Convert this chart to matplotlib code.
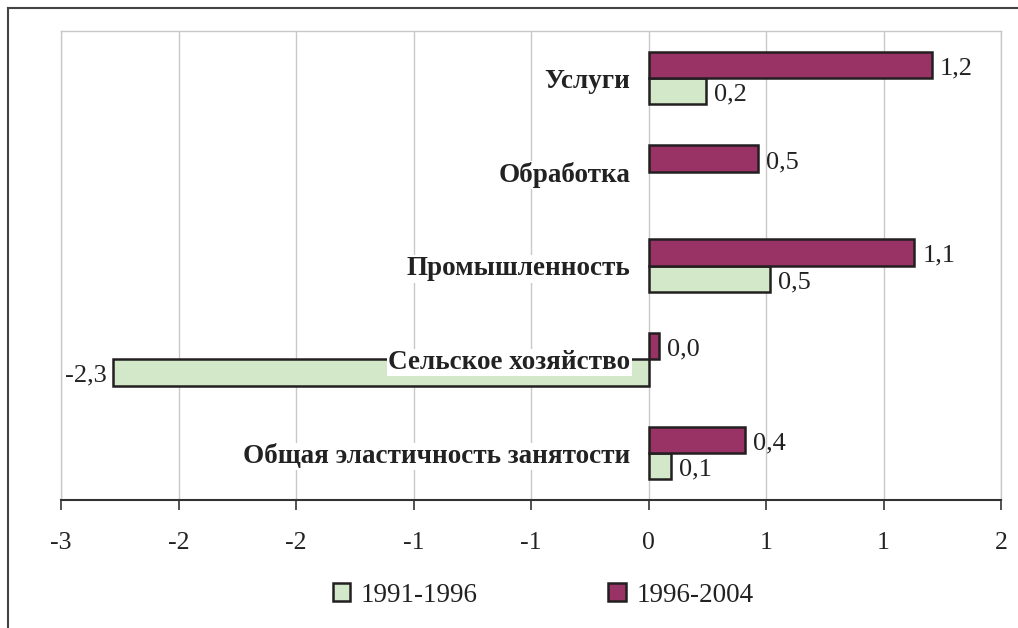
import numpy as np
import matplotlib
matplotlib.use("Agg")
import matplotlib.pyplot as plt
from matplotlib.lines import Line2D

plt.rcParams["font.family"] = ["Liberation Serif", "DejaVu Serif"]

categories = ["Общая эластичность занятости", "Сельское хозяйство",
              "Промышленность", "Обработка", "Услуги"]
v_1991_1996 = [0.094, -2.28, 0.515, np.nan, 0.243]
v_1996_2004 = [0.41, 0.045, 1.13, 0.464, 1.205]
series_names = ["1991-1996", "1996-2004"]
tick_values = [-2.5, -2.0, -1.5, -1.0, -0.5, 0.0, 0.5, 1.0, 1.5]
tick_labels = ["-3", "-2", "-2", "-1", "-1", "0", "1", "1", "2"]

green = "#D3E8C8"
purple = "#993366"
edge = "#231F20"

fig = plt.figure(figsize=(10.18, 6.28), dpi=100)
ax = fig.add_axes([61 / 1018, 1 - 500 / 628, 940 / 1018, 469 / 628])

y = np.arange(len(categories))
h = 0.28
ax.barh(y - h / 2, v_1991_1996, height=h, color=green, edgecolor=edge,
        linewidth=1.8, label=series_names[0], zorder=3)
ax.barh(y + h / 2, v_1996_2004, height=h, color=purple, edgecolor=edge,
        linewidth=1.8, label=series_names[1], zorder=3)

def fmt(v):
    return f"{v:.1f}".replace(".", ",")

for yy, v in zip(y - h / 2, v_1991_1996):
    if np.isnan(v):
        continue
    off = 6 if v >= 0 else -4
    ax.annotate(fmt(v), (v, yy), xytext=(off, -2.5), textcoords="offset points",
                ha="left" if v >= 0 else "right", va="center", fontsize=19,
                color="#222222", zorder=5)
for yy, v in zip(y + h / 2, v_1996_2004):
    ax.annotate(fmt(v), (v, yy), xytext=(6, -2.5), textcoords="offset points",
                ha="left", va="center", fontsize=19, color="#222222", zorder=5)

for yy, name in zip(y, categories):
    ax.annotate(name, (0, yy), xytext=(-13, -2.5), textcoords="offset points",
                ha="right", va="center", fontsize=19.5, fontweight="bold",
                color="#222222", zorder=4,
                bbox=dict(boxstyle="square,pad=0.04", fc="white", ec="none"))

ax.set_xlim(-2.5, 1.5)
ax.set_ylim(-0.5, len(categories) - 0.5)
ax.set_xticks(tick_values)
ax.set_xticklabels(tick_labels, fontsize=18.5, color="#222222")
ax.set_yticks([])
ax.tick_params(axis="x", direction="out", length=7, width=1.2, pad=16, color="#333333")
ax.grid(axis="x", color="#C8C8C8", linewidth=1, zorder=0)
for s in ["top", "left", "right"]:
    ax.spines[s].set_color("#C8C8C8")
    ax.spines[s].set_linewidth(1)
ax.spines["bottom"].set_color("#333333")
ax.spines["bottom"].set_linewidth(1.5)

leg = fig.legend(loc="center", bbox_to_anchor=(543 / 1018, 1 - 595 / 628),
                 ncol=2, frameon=False, fontsize=19.5, handlelength=0.65,
                 handleheight=0.65, handletextpad=0.4, columnspacing=4.8)
for t in leg.get_texts():
    t.set_color("#222222")

# outer frame (left and top edges)
fig.add_artist(Line2D([8 / 1018, 8 / 1018], [0, 1 - 8 / 628], transform=fig.transFigure,
                      color="#444444", linewidth=1.5))
fig.add_artist(Line2D([8 / 1018, 1], [1 - 8 / 628, 1 - 8 / 628], transform=fig.transFigure,
                      color="#444444", linewidth=1.5))

fig.savefig("out.png", dpi=100)
